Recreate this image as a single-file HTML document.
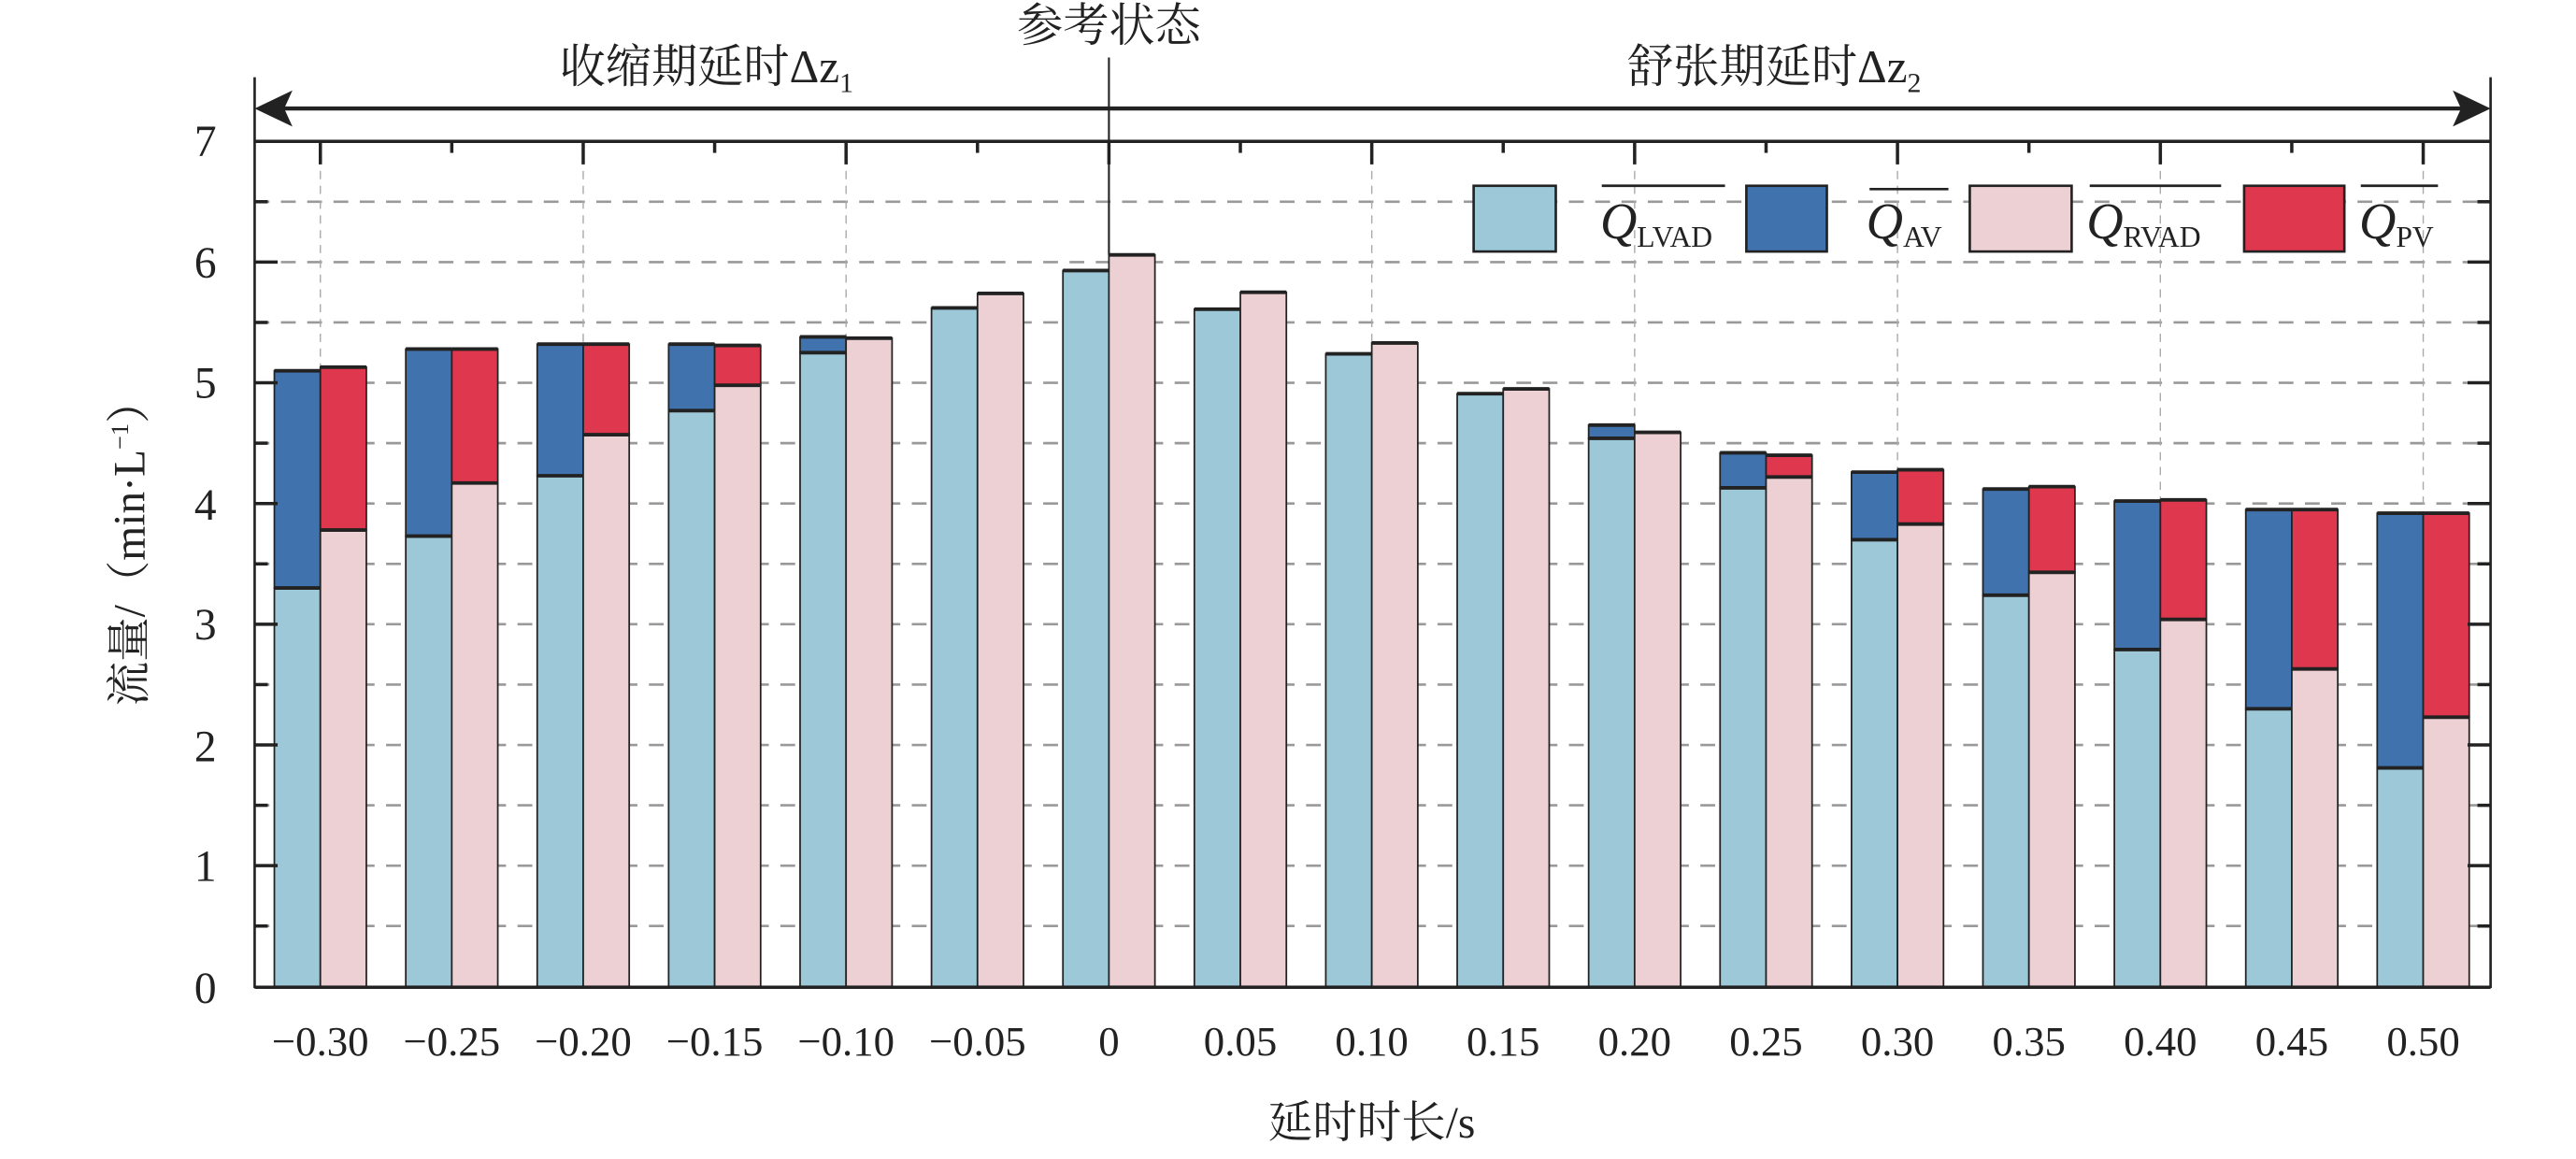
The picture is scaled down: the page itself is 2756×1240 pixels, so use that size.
<!DOCTYPE html>
<html><head><meta charset="utf-8"><style>
html,body{margin:0;padding:0;background:#fff}
svg{display:block}
text{font-family:"Liberation Serif","Noto Serif CJK SC",serif;fill:#222}
</style></head><body>
<svg id="s" width="2756" height="1240" viewBox="0 0 1568 705" preserveAspectRatio="none" xmlns="http://www.w3.org/2000/svg">
<g id="grid" stroke="#999" stroke-width="1.5" stroke-dasharray="9,7"></g>
<g id="vgrid" stroke="#aaa" stroke-width="0.8" stroke-dasharray="5,4"></g>
<g id="bars" stroke="#222" stroke-width="1"></g>
<g id="tops" stroke="#222" stroke-width="2.2"></g>
<g id="ticks" stroke="#222" stroke-width="2"></g>
<line x1="155" y1="47" x2="155" y2="601" stroke="#222" stroke-width="1.5"/>
<line x1="1516" y1="47" x2="1516" y2="601" stroke="#222" stroke-width="1.5"/>
<line x1="155" y1="600.5" x2="1516" y2="600.5" stroke="#222" stroke-width="2"/>
<line x1="155" y1="86" x2="1516" y2="86" stroke="#222" stroke-width="2"/>
<line x1="165" y1="66" x2="1506" y2="66" stroke="#222" stroke-width="2.5"/>
<polygon points="155,66 178,55 173,66 178,77" fill="#222"/>
<polygon points="1516,66 1493,55 1498,66 1493,77" fill="#222"/>
<line x1="675" y1="35" x2="675" y2="155" stroke="#222" stroke-width="1.2"/>
<text x="430" y="50" font-size="28" text-anchor="middle">收缩期延时Δz<tspan font-size="17" dy="6">1</tspan></text>
<text x="675" y="25" font-size="28" text-anchor="middle">参考状态</text>
<text x="1080" y="50" font-size="28" text-anchor="middle">舒张期延时Δz<tspan font-size="17" dy="6">2</tspan></text>
<g font-size="27" text-anchor="middle">
<text x="125" y="610">0</text><text x="125" y="536">1</text><text x="125" y="463">2</text><text x="125" y="389">3</text><text x="125" y="316">4</text><text x="125" y="242">5</text><text x="125" y="169">6</text><text x="125" y="95">7</text>
</g>
<g font-size="25.5" text-anchor="middle">
<text x="195" y="642">−0.30</text><text x="275" y="642">−0.25</text><text x="355" y="642">−0.20</text><text x="435" y="642">−0.15</text><text x="515" y="642">−0.10</text><text x="595" y="642">−0.05</text><text x="675" y="642">0</text><text x="755" y="642">0.05</text><text x="835" y="642">0.10</text><text x="915" y="642">0.15</text><text x="995" y="642">0.20</text><text x="1075" y="642">0.25</text><text x="1155" y="642">0.30</text><text x="1235" y="642">0.35</text><text x="1315" y="642">0.40</text><text x="1395" y="642">0.45</text><text x="1475" y="642">0.50</text>
</g>
<text x="835" y="692" font-size="27" text-anchor="middle">延时时长/s</text>
<text transform="translate(88,330) rotate(-90)" font-size="27" text-anchor="middle">流量/（min·L<tspan font-size="15" dy="-10">−1</tspan><tspan dy="10">）</tspan></text>
<g stroke="#222" stroke-width="1.5">
<rect x="897" y="113" width="50" height="40" fill="#9cc8d8"/>
<rect x="1063" y="113" width="49" height="40" fill="#4073ad"/>
<rect x="1199" y="113" width="62" height="40" fill="#ecd0d3"/>
<rect x="1366" y="113" width="61" height="40" fill="#df374d"/>
<line x1="975" y1="113" x2="1050" y2="113"/>
<line x1="1138" y1="115" x2="1186" y2="115"/>
<line x1="1272" y1="113" x2="1352" y2="113"/>
<line x1="1437" y1="113" x2="1484" y2="113"/>
</g>
<g font-size="31" font-style="italic">
<text x="974" y="145">Q<tspan font-size="18" font-style="normal" dy="5">LVAD</tspan></text>
<text x="1136" y="145">Q<tspan font-size="18" font-style="normal" dy="5">AV</tspan></text>
<text x="1270" y="145">Q<tspan font-size="18" font-style="normal" dy="5">RVAD</tspan></text>
<text x="1436" y="145">Q<tspan font-size="18" font-style="normal" dy="5">PV</tspan></text>
</g>
<script>
(function(){
var NS="http://www.w3.org/2000/svg";
function el(p,t,a){var e=document.createElementNS(NS,t);for(var k in a)e.setAttribute(k,a[k]);p.appendChild(e);return e;}
function Y(v){return 600-73.43*v;}
var g=document.getElementById('grid'),vg=document.getElementById('vgrid'),b=document.getElementById('bars'),tk=document.getElementById('ticks'),tp=document.getElementById('tops');
for(var i=1;i<=13;i++){var y=Y(i*0.5);el(g,'line',{x1:155,x2:1516,y1:y,y2:y});
 var L=(i%2==0)?14:8;el(tk,'line',{x1:155,x2:155+L,y1:y,y2:y});el(tk,'line',{x1:1516-L,x2:1516,y1:y,y2:y});}
for(var j=0;j<17;j++){var cx=195+80*j;
 el(tk,'line',{x1:cx,x2:cx,y1:86,y2:(j%2==0)?100:93});
 if(j%2==0&&j!=6)el(vg,'line',{x1:cx,x2:cx,y1:86,y2:600});}
var D=[[3.3,5.1,3.78,5.13],[3.73,5.28,4.17,5.28],[4.23,5.32,4.57,5.32],[4.77,5.32,4.98,5.31],[5.25,5.38,5.37,0],[5.62,0,5.74,0],[5.93,0,6.06,0],[5.61,0,5.75,0],[5.24,0,5.33,0],[4.91,0,4.95,0],[4.54,4.65,4.59,0],[4.13,4.42,4.22,4.40],[3.70,4.26,3.83,4.28],[3.24,4.12,3.43,4.14],[2.79,4.02,3.04,4.03],[2.30,3.95,2.63,3.95],[1.81,3.92,2.23,3.92]];
function topLine(x,v){el(tp,'line',{x1:x,x2:x+28,y1:Y(v),y2:Y(v)});}
D.forEach(function(d,j){var cx=195+80*j;
 if(d[1])el(b,'rect',{x:cx-28,y:Y(d[1]),width:28,height:Y(d[0])-Y(d[1]),fill:'#4073ad'});
 el(b,'rect',{x:cx-28,y:Y(d[0]),width:28,height:600-Y(d[0]),fill:'#9cc8d8'});
 if(d[3])el(b,'rect',{x:cx,y:Y(d[3]),width:28,height:Y(d[2])-Y(d[3]),fill:'#df374d'});
 el(b,'rect',{x:cx,y:Y(d[2]),width:28,height:600-Y(d[2]),fill:'#ecd0d3'});
 topLine(cx-28,d[0]);if(d[1])topLine(cx-28,d[1]);topLine(cx,d[2]);if(d[3])topLine(cx,d[3]);
});
})();
</script>
</svg>
</body></html>
